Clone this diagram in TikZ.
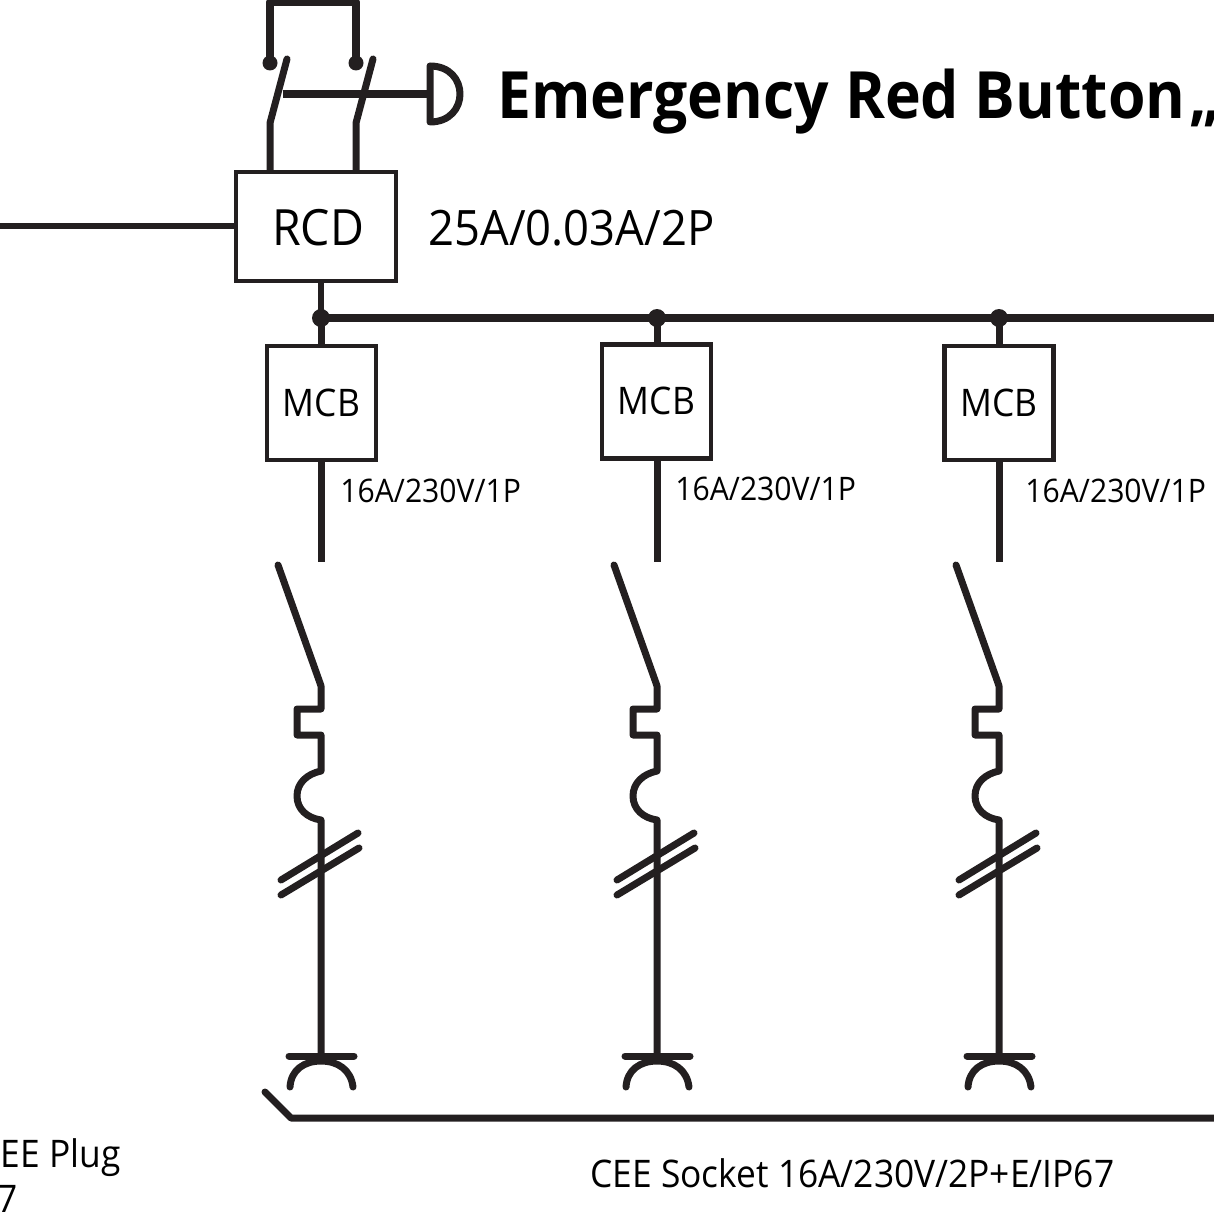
\documentclass[tikz,border=0pt]{standalone}
\usepackage{fontspec}
\setmainfont[FakeStretch=0.93]{Open Sans}
\definecolor{ink}{HTML}{231F20}
\tikzset{
  x=0.5pt,y=-0.5pt,
  wire/.style={draw=ink,line width=3.8pt,line join=round},
  thin wire/.style={draw=ink,line width=3.5pt,line cap=round,line join=round},
  boxed/.style={draw=ink,line width=2.3pt,inner sep=0pt,rectangle,fill=white},
  dot/.style={circle,fill=ink,inner sep=0pt,minimum size=9pt},
  lab/.style={anchor=base west,inner sep=0pt,text=black},
}
\begin{document}
\begin{tikzpicture}
\useasboundingbox (0,0) rectangle (1214,1214);
\clip (0,0) rectangle (1214,1214);
% emergency button
\coordinate (loopL) at (270,63);
\coordinate (loopR) at (356,63);
\node[dot,minimum size=7.5pt] (dotL) at (loopL) {};
\node[dot,minimum size=7.5pt] (dotR) at (loopR) {};
\draw[wire,line width=4pt] (dotL.center) -- (270,2) -- (356,2) -- (dotR.center);
\node[boxed,minimum width=80pt,minimum height=54.5pt] (rcd) at (316,226.5) {};
\node[font=\fontsize{25}{25}\selectfont,inner sep=0pt] (rcdt) at (318,228) {RCD};
\draw[thin wire] (287,59) -- (270,123) -- (270,170);
\draw[thin wire] (373,59) -- (356,123) -- (356,170);
\coordinate (bar) at (283,94);
\coordinate (head) at (430,94);
\draw[wire] (bar) -- (head);
\draw[thin wire] (430,66) -- (430,122) .. controls (450,122) and (460,108) .. (460,94) .. controls (460,80) and (450,66) .. (430,66);
% feed
\coordinate (feed) at (0,226);
\draw[wire,line width=3pt] (feed) -- (rcd.west |- feed);
% bus
\coordinate (j1) at (321,318);
\coordinate (j2) at (657,318);
\coordinate (j3) at (999,318);
\coordinate (busend) at (1214,318);
\draw[wire,line width=4pt] (j1) -- (busend);
\draw[wire,line width=3.4pt] (rcd.south -| j1) -- (j1);
\node[dot] at (j1) {};
\node[dot] at (j2) {};
\node[dot] at (j3) {};
% branches
\foreach \n/\cx/\bx/\ty/\by/\ltx/\lty/\mcy in {1/321/321.5/346/460/340/502/403, 2/657/656.5/344/459/675/500/401, 3/999/999/346/460/1025/502/403}{
  \begin{scope}[shift={(\cx,0)}]
    \coordinate (tap\n) at (0,318);
    \coordinate (open\n) at (0,562);
    \coordinate (sock\n) at (0,1056);
    \draw[wire,line width=3.5pt] (tap\n) -- (open\n);
    \draw[thin wire] (-43,565) -- (-1,683) -- (0,686) -- (0,709) -- (-24,709) -- (-24,735) -- (0,735) -- (0,771)
      .. controls (-14,774) and (-24,783) .. (-24,796) .. controls (-24,809) and (-14,818) .. (0,820) -- (sock\n);
    \draw[thin wire] (-40,880) -- (37,833);
    \draw[thin wire] (-40,895) -- (38,848);
    \draw[thin wire] (-32,1056) -- (33,1056);
    \draw[thin wire] (-31,1087) .. controls (-30,1070) and (-17,1061) .. (0,1061) .. controls (17,1061) and (30,1070) .. (32,1087);
  \end{scope}
  \node[boxed,minimum width=54.5pt,minimum height=57pt] (mcb\n) at (\bx,{(\ty+\by)/2}) {};
  \node[font=\fontsize{19}{20}\selectfont,inner sep=0pt] (mcbt\n) at (\bx,\mcy) {MCB};
  \node[lab,font=\fontsize{16.2}{16}\selectfont] (rate\n) at (\ltx,\lty) {16A/230V/1P};
}
% ground rail
\coordinate (railA) at (265,1092);
\coordinate (railB) at (291,1118);
\coordinate (railC) at (1214,1118);
\draw[thin wire] (railA) -- (railB) -- (railC);
% texts
\node[lab,font=\fontsize{32.6}{32}\selectfont\bfseries] (title) at (497,119) {Emergency Red Button\kern-6pt\ „};
\node[lab,font=\fontsize{24.4}{24}\selectfont] (rating) at (428,245) {25A/0.03A/2P};
\node[lab,font=\fontsize{19}{19}\selectfont] (socket) at (590,1187) {CEE Socket 16A/230V/2P+E/IP67};
\node[anchor=base east,inner sep=0pt,font=\fontsize{19}{19}\selectfont] (plug) at (121,1167) {CEE Plug};
\node[anchor=base east,inner sep=0pt,font=\fontsize{19}{19}\selectfont] (plugb) at (18,1212) {7};
\end{tikzpicture}
\end{document}
